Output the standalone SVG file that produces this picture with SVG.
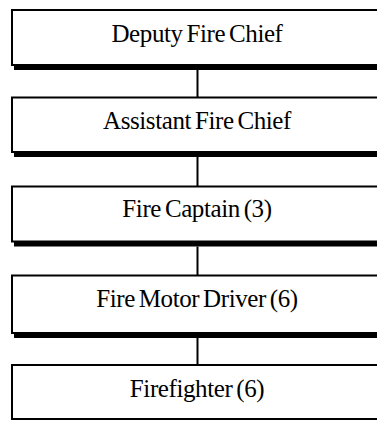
<svg xmlns="http://www.w3.org/2000/svg" width="377" height="422" viewBox="0 0 377 422">
<style>
.shadow{fill:#000;stroke:none}
.box{fill:#fff;stroke:#000;stroke-width:2}
.lbl{font-family:"Liberation Serif","Times New Roman",serif;font-size:25px;fill:#000;text-anchor:middle;letter-spacing:-0.4px;word-spacing:-2px}
.conn{stroke:#000;stroke-width:2;fill:none}
</style>
<rect width="377" height="422" fill="#fff"/>
<g id="connectors">
<line class="conn" x1="197.5" y1="70" x2="197.5" y2="97.5"/>
<line class="conn" x1="197.5" y1="157" x2="197.5" y2="186.5"/>
<line class="conn" x1="197.5" y1="246.5" x2="197.5" y2="275.5"/>
<line class="conn" x1="197.5" y1="338" x2="197.5" y2="365"/>
</g>
<g id="deputy-fire-chief">
<rect class="shadow" x="14" y="15" width="370" height="55"/>
<rect class="box" x="12" y="10" width="370" height="55"/>
<text class="lbl" x="197" y="41.5">Deputy Fire Chief</text>
</g>
<g id="assistant-fire-chief">
<rect class="shadow" x="14" y="102.5" width="370" height="54.5"/>
<rect class="box" x="12" y="97.5" width="370" height="54.5"/>
<text class="lbl" x="197" y="128.5">Assistant Fire Chief</text>
</g>
<g id="fire-captain">
<rect class="shadow" x="14" y="191.5" width="370" height="55"/>
<rect class="box" x="12" y="186.5" width="370" height="55"/>
<text class="lbl" x="197" y="217">Fire Captain (3)</text>
</g>
<g id="fire-motor-driver">
<rect class="shadow" x="14" y="280.5" width="370" height="57.5"/>
<rect class="box" x="12" y="275.5" width="370" height="57.5"/>
<text class="lbl" x="197" y="306.8">Fire Motor Driver (6)</text>
</g>
<g id="firefighter">
<rect class="box" x="12" y="365" width="370" height="54"/>
<text class="lbl" x="197" y="396.7">Firefighter (6)</text>
</g>
</svg>
